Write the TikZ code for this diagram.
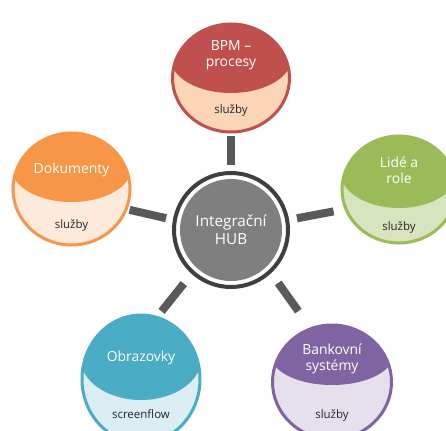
\documentclass[tikz,border=0pt]{standalone}
\usepackage{fontspec}
\setmainfont{Open Sans}
\usetikzlibrary{shapes.geometric}
\definecolor{bpmc}{HTML}{C0504D}
\definecolor{bpml}{HTML}{FBD5B5}
\definecolor{lidec}{HTML}{9BBB59}
\definecolor{lidel}{HTML}{D7E4BD}
\definecolor{dokc}{HTML}{F79646}
\definecolor{dokl}{HTML}{FDEADA}
\definecolor{obrc}{HTML}{4BACC6}
\definecolor{obrl}{HTML}{DAEEF3}
\definecolor{bankc}{HTML}{8064A2}
\definecolor{bankl}{HTML}{E5E0EC}
\definecolor{hubc}{HTML}{7F7F7F}
\definecolor{ringc}{HTML}{3F3F3F}
\definecolor{linkc}{HTML}{595959}
\definecolor{subc}{HTML}{262626}

\begin{document}
\begin{tikzpicture}
[x=1pt, y=-1pt,
satnode/.style n args={5}{ellipse, inner sep=0pt, minimum width=#1, minimum height=#2, draw=#4, fill=#5, line width=3pt,
  path picture={\fill[#4] (path picture bounding box.north) ++(0pt,-#3) ellipse ({0.515*#1} and #3);}},
titletext/.style={text=white, font=\fontsize{13.9}{16}\selectfont, align=center},
subtext/.style={text=subc, font=\fontsize{11.5}{13}\selectfont},
ringnode/.style={circle, draw=ringc, line width=4pt, fill=white, minimum size=114pt},
hubnode/.style={circle, fill=hubc, minimum size=102pt, text=white, font=\fontsize{15.3}{18}\selectfont, align=center},
link/.style={draw=linkc, line width=8pt},
]
\useasboundingbox (0,0) rectangle (446,430);
\fill[white] (0,0) rectangle (446,430);

\node[ringnode] (ring) at (231,230) {};
\node[hubnode] (hub) at (ring.center) {Integrační\\HUB};

\node[satnode={117pt}{108pt}{34.5pt}{bpmc}{bpml}] (bpm) at (231,78) {};
\node[titletext] (bpm-t) at ([yshift=22.5pt]bpm.center) {BPM –\\procesy};
\node[subtext] (bpm-s) at ([yshift=-32pt]bpm.center) {služby};

\node[satnode={114pt}{107pt}{36pt}{lidec}{lidel}] (lide) at (399,189.5) {};
\node[titletext] (lide-t) at ([yshift=19.5pt]lide.center) {Lidé a\\role};
\node[subtext] (lide-s) at ([yshift=-37.5pt]lide.center) {služby};

\node[satnode={117pt}{112pt}{34.5pt}{dokc}{dokl}] (dok) at (71.5,189) {};
\node[titletext] (dok-t) at ([yshift=19pt]dok.center) {Dokumenty};
\node[subtext] (dok-s) at ([yshift=-36pt]dok.center) {služby};

\node[satnode={118pt}{128pt}{42.5pt}{obrc}{obrl}] (obr) at (141,379) {};
\node[titletext] (obr-t) at ([yshift=21pt]obr.center) {Obrazovky};
\node[subtext] (obr-s) at ([yshift=-35pt]obr.center) {screenflow};

\node[satnode={119pt}{114pt}{30pt}{bankc}{bankl}] (bank) at (332,382) {};
\node[titletext] (bank-t) at ([yshift=23pt]bank.center) {Bankovní\\systémy};
\node[subtext] (bank-s) at ([yshift=-33pt]bank.center) {služby};

\draw[link, shorten <=6pt, shorten >=2.5pt] (ring.90) -- (bpm.270);
\draw[link, shorten <=8pt, shorten >=11pt] (ring.10) -- (lide.200);
\draw[link, shorten <=7pt, shorten >=2pt] (ring.170) -- (dok.-20);
\draw[link, shorten <=12.5pt, shorten >=6pt] (ring.228) -- (obr.75);
\draw[link, shorten <=12pt, shorten >=20pt] (ring.-47) -- (bank.112);
\end{tikzpicture}
\end{document}
